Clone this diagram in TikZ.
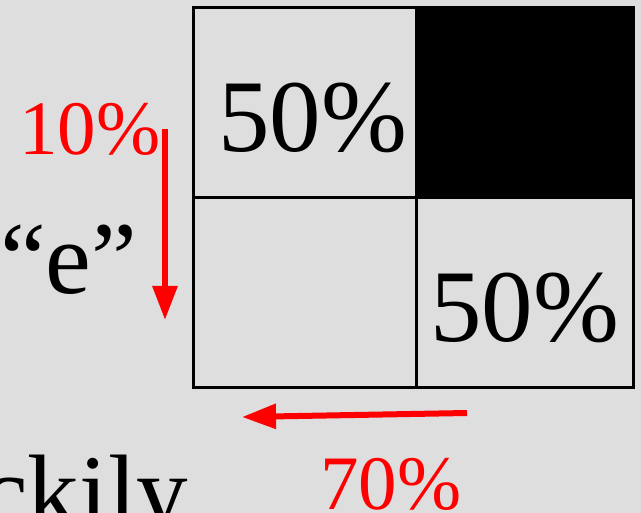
\documentclass[tikz,border=0pt]{standalone}
\usepackage{fontspec}
\setmainfont{Liberation Serif}
\usetikzlibrary{arrows.meta,positioning}
\definecolor{slidebg}{RGB}{222,222,222}
\definecolor{hint}{RGB}{255,0,0}

\begin{document}
\begin{tikzpicture}[x=1pt, y=-1pt,
  cell/.style={draw, line width=3pt, minimum width=223pt, minimum height=190pt,
    inner sep=0pt, anchor=north west},
  big/.style={font=\fontsize{103}{110}\selectfont, inner sep=0pt, anchor=base west},
  note/.style={font=\fontsize{77}{82}\selectfont, text=hint, inner sep=0pt,
    anchor=base west},
  hintarrow/.style={draw=hint, line width=6pt,
    -{Triangle[length=34pt, width=24pt]}}]
\fill[slidebg] (0,0) rectangle (641,513);
\useasboundingbox (0,0) rectangle (641,513);
% the 2x2 table
\node[cell, fill=slidebg] (tl) at (192,6) {};
\node[cell, fill=black, minimum width=217pt] (tr) at (415,6) {};
\node[cell, fill=slidebg] (bl) at (192,196) {};
\node[cell, fill=slidebg, minimum width=217pt] (br) at (415,196) {};
\node[big] (ptl) at (218,152) {50\%};
\node[big] (pbr) at (430,342) {50\%};
% row label
\node[big] (quo) at (0,294) {“e”};
\node[big] (lucky) at (-18,527) {ckily};
% red hints
\node[note] (ten) at (19,155) {10\%};
\node[note] (seventy) at (320,510) {70\%};
\coordinate (vtop) at (165,129);
\coordinate (vtip) at (165,320);
\coordinate (htail) at (467,413);
\coordinate (htip) at (242,417);
\draw[hintarrow] (vtop) -- (vtip);
\draw[hintarrow] (htail) -- (htip);
\end{tikzpicture}
\end{document}
